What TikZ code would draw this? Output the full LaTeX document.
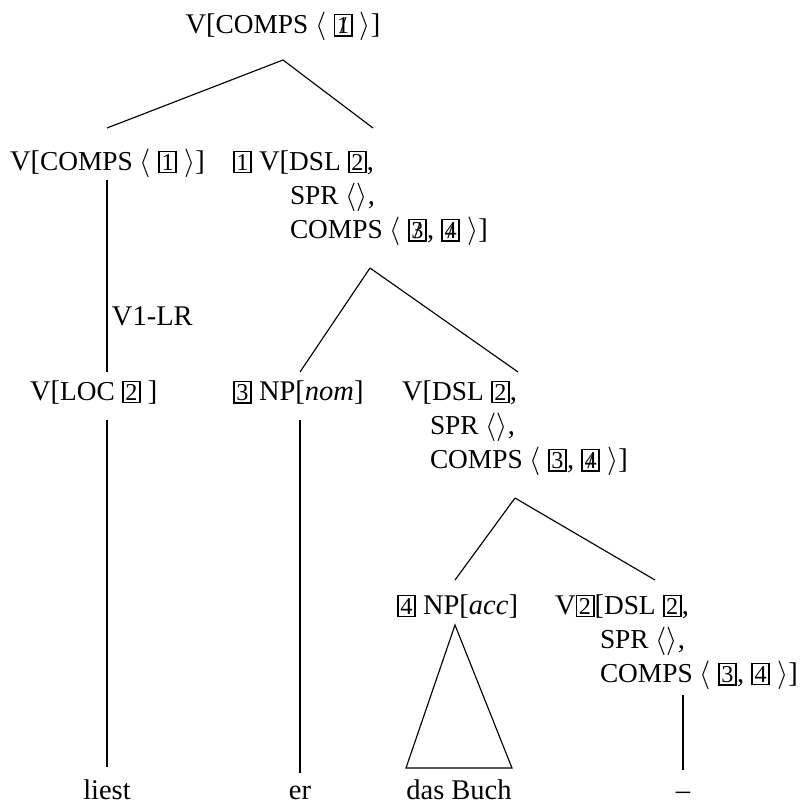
\documentclass[tikz,border=0pt]{standalone}
\usepackage[no-math]{fontspec}
\setmainfont{Liberation Serif}
\usetikzlibrary{positioning}

\newcommand{\fsc}[1]{{\fontsize{9.6pt}{11pt}\selectfont #1}}
\newcommand{\tagbox}[1]{{\setlength{\fboxsep}{0.6pt}\setlength{\fboxrule}{0.6pt}\fbox{\fontsize{8.5pt}{9pt}\selectfont #1}}}
\newcommand{\tagout}[1]{\tagbox{\ooalign{#1\cr\hidewidth/\hidewidth}}}
\newcommand{\angl}{$\langle$}
\newcommand{\angr}{$\rangle$}

\begin{document}
\begin{tikzpicture}[x=0.351pt,y=-0.351pt,
  every node/.style={inner sep=0pt,outer sep=0pt},
  lbl/.style={anchor=base west},
  leaf/.style={anchor=base}]
\useasboundingbox (0,0) rectangle (800,804);
% labels
\node[leaf] (vtop) at (283,33) {V[\fsc{COMPS} \angl{} \tagout{1} \angr]};
\node[lbl] (vleft) at (10,170) {V[\fsc{COMPS} \angl{} \tagbox{1} \angr]};
\node[lbl] (vhd) at (233,170) {\tagbox{1} V[\fsc{DSL} \tagbox{2},};
\node[lbl] (vhd-spr) at (290,204) {\fsc{SPR} \angl\angr,};
\node[lbl] (vhd-comps) at (290,238) {\fsc{COMPS} \angl{} \tagout{3}, \tagout{4} \angr]};
\node[lbl] (rule) at (112,325) {V1-LR};
\node[lbl] (vloc) at (30,400) {V[\fsc{LOC} \tagbox{2} ]};
\node[lbl] (npnom) at (233,400) {\tagbox{3} NP[\textit{nom}]};
\node[lbl] (vmid) at (402,400) {V[\fsc{DSL} \tagbox{2},};
\node[lbl] (vmid-spr) at (430,434) {\fsc{SPR} \angl\angr,};
\node[lbl] (vmid-comps) at (430,468) {\fsc{COMPS} \angl{} \tagbox{3}, \tagout{4} \angr]};
\node[lbl] (npacc) at (397,614) {\tagbox{4} NP[\textit{acc}]};
\node[lbl] (vtr) at (555,614) {V\tagbox{2}[\fsc{DSL} \tagbox{2},};
\node[lbl] (vtr-spr) at (600,648) {\fsc{SPR} \angl\angr,};
\node[lbl] (vtr-comps) at (600,682) {\fsc{COMPS} \angl{} \tagbox{3}, \tagbox{4} \angr]};
% words
\node[leaf] (liest) at (107,799) {liest};
\node[leaf] (er) at (300,799) {er};
\node[leaf] (buch) at (459,799) {das Buch};
\node[leaf] (trace) at (683,799) {--};
% branch ends
\coordinate (vtop-b) at (283,60);
\coordinate (vleft-t) at (107,128);
\coordinate (vhd-t) at (373,128);
\coordinate (vleft-b) at (107,180);
\coordinate (vloc-t) at (107,372);
\coordinate (vhd-b) at (370,268);
\coordinate (npnom-t) at (300,372);
\coordinate (vmid-t) at (518,372);
\coordinate (vloc-b) at (107,420);
\coordinate (liest-t) at (107,767);
\coordinate (npnom-b) at (300,420);
\coordinate (er-t) at (300,773);
\coordinate (vmid-b) at (515,498);
\coordinate (npacc-t) at (455,580);
\coordinate (vtr-t) at (655,580);
\coordinate (npacc-b) at (455,625);
\coordinate (buch-l) at (406,768);
\coordinate (buch-r) at (512,768);
\coordinate (vtr-b) at (683,695);
\coordinate (trace-t) at (683,770);
% branches
\draw (vtop-b)--(vleft-t) (vtop-b)--(vhd-t);
\draw (vleft-b)--(vloc-t);
\draw (vhd-b)--(npnom-t) (vhd-b)--(vmid-t);
\draw (vloc-b)--(liest-t);
\draw (npnom-b)--(er-t);
\draw (vmid-b)--(npacc-t) (vmid-b)--(vtr-t);
\draw (npacc-b)--(buch-l)--(buch-r)--cycle;
\draw (vtr-b)--(trace-t);
\end{tikzpicture}
\end{document}
